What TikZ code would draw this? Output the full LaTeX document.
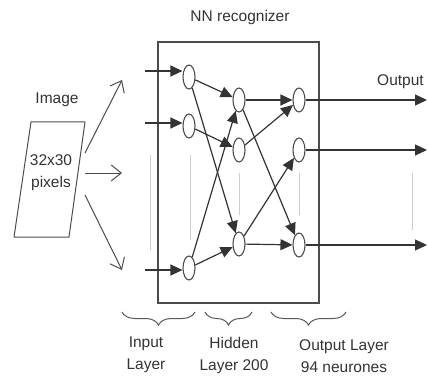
\documentclass[tikz,border=0pt]{standalone}
\usepackage{fontspec}
\setmainfont{Liberation Sans}
\usepackage{tikz}
\usepackage{tkz-euclide}
\usetikzlibrary{calc}
\usetikzlibrary{positioning}
\usetikzlibrary{arrows.meta}
\usetikzlibrary{shapes.geometric}
\usetikzlibrary{decorations.pathreplacing}

\tikzset{
  neuron/.style={draw=black!70, ellipse, line width=1.1pt, inner sep=0pt,
    minimum width=12pt, minimum height=24pt},
  wire/.style={line width=1.2pt, draw=black!80,
    -{Triangle[length=12pt,width=11pt]}},
  feed/.style={line width=1pt, draw=black!70,
    -{Straight Barb[length=10pt,width=16pt]}},
  dots/.style={draw=black!20, line width=0.7pt},
  txt/.style={font=\fontsize{15.5}{22}\selectfont, text=black!80,
    align=center, inner sep=0pt},
  layerbrace/.style={decorate, decoration={brace, mirror, amplitude=13pt},
    line width=1pt, draw=black!65},
}

\begin{document}
\begin{tikzpicture}[%
  x=1pt, y=-1pt,
  % yscale=0.8,
]
  \useasboundingbox (0,0) rectangle (428,377);

  % the picture that comes in
  \tkzDefPoint(31,122){P}
  \tkzDefPoint(85,122){Q}
  \tkzDefPoint(69,237){R}
  \tkzDefPoint(14,237){S}
  \tkzDrawPolygon[line width=1pt, color=black!70](P,Q,R,S)

  \node[txt] (img) at (57,100) {Image};
  \node[txt] (pix) at (51,173) {32x30\\pixels};

  \tkzDefPoint(85,153){a1}
  \tkzDefPoint(122,80){b1}
  \tkzDefPoint(85,173){a2}
  \tkzDefPoint(122,173){b2}
  \tkzDefPoint(85,195){a3}
  \tkzDefPoint(122,270){b3}
  \draw[feed] (a1) -- (b1);
  \draw[feed] (a2) -- (b2);
  \draw[feed] (a3) -- (b3);

  % recognizer box
  \tkzDefPoint(158,42){B}
  \tkzDefPoint(319,303){C}
  \draw[line width=1.2pt, black!70] (B) rectangle (C);
  \node[txt, anchor=base] (title) at (240,22) {NN recognizer};

  % faint "..." marks
  \foreach \x/\ya/\yb in {150/155/250, 190/155/240, 239/173/215,
                          299/173/215, 412/173/230}
    \draw[dots] (\x,\ya) -- (\x,\yb);

  % neurons
  \node[neuron] (i1) at (189,77) {};
  \node[neuron] (i2) at (189,126) {};
  \node[neuron] (i3) at (189,268) {};
  \node[neuron] (h1) at (239,100) {};
  \node[neuron] (h2) at (239,150) {};
  \node[neuron] (h3) at (239,244) {};
  \node[neuron] (o1) at (299,100) {};
  \node[neuron] (o2) at (299,150) {};
  \node[neuron] (o3) at (299,245) {};

  \tkzDefPoint(145,71){s1}
  \tkzDefPoint(145,123){s2}
  \tkzDefPoint(145,270){s3}
  \draw[wire] (s1) -- (s1 -| i1.west);
  \draw[wire] (s2) -- (s2 -| i2.west);
  \draw[wire] (s3) -- (s3 -| i3.west);

  \draw[wire] (i1) -- (h1);
  \draw[wire] (i1) -- (h3);
  \draw[wire] (i2) -- (h2);
  \draw[wire] (i3) -- (h1);
  \draw[wire] (i3) -- (h3);

  \draw[wire] (h1) -- (o1);
  \draw[wire] (h1) -- (o3);
  \draw[wire] (h2) -- (o1);
  \draw[wire] (h3) -- (o2);
  \draw[wire] (h3) -- (o3);

  \tkzDefPoint(427,100){t1}
  \tkzDefPoint(427,150){t2}
  \tkzDefPoint(427,245){t3}
  \draw[wire] (o1) -- (t1);
  \draw[wire] (o2) -- (t2);
  \draw[wire] (o3) -- (t3);
  \node[txt, anchor=west] (out) at (377,82) {Output};

  % layers
  \draw[layerbrace] (122,312) -- (195,312);
  \draw[layerbrace] (205,312) -- (252,312);
  \draw[layerbrace] (271,312) -- (346,312);

  \node[txt] (lin) at (146,355) {Input\\Layer};
  \node[txt] (lhid) at (234,355) {Hidden\\Layer 200};
  \node[txt] (lout) at (344,356) {Output Layer\\94 neurones};

\end{tikzpicture}
\end{document}
